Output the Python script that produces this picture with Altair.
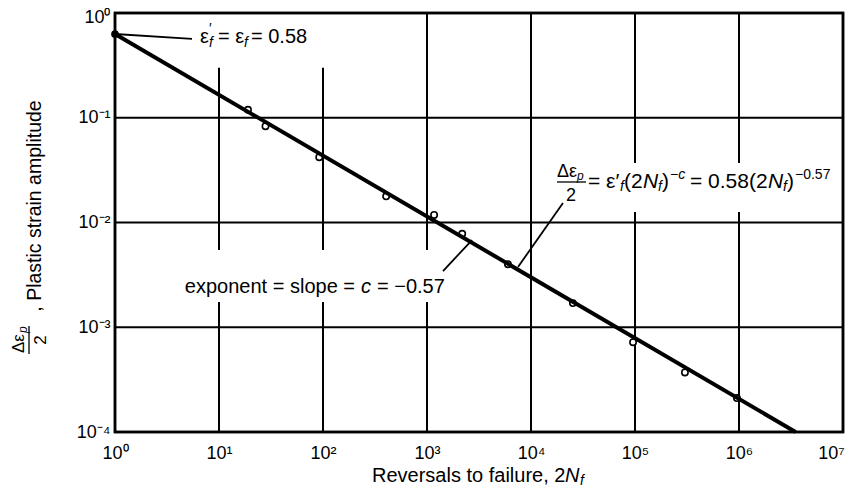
import altair as alt
import pandas as pd

# ---- data ----
pt_x = [19, 28, 92, 405, 1170, 2180, 6000, 25300, 95800, 302000, 955000]
pt_y = [0.119, 0.083, 0.042, 0.0178, 0.0118, 0.0078, 0.0040, 0.0017, 0.00072, 0.00037, 0.000211]

fit_x = [1, 3.5e6]
fit_y = [0.63, 1e-4]

start_x = [1]
start_y = [0.63]

x_ticks = [1, 10, 100, 1000, 1e4, 1e5, 1e6, 1e7]
x_tick_labels = ["10⁰", "10¹", "10²", "10³", "10⁴", "10⁵", "10⁶", "10⁷"]
y_ticks = [1, 0.1, 0.01, 0.001, 0.0001]
y_tick_labels = ["10⁰", "10⁻¹", "10⁻²", "10⁻³", "10⁻⁴"]

hgrid_y = [0.1, 0.01, 0.001]

vg_x = [10, 10, 100, 100, 1000, 1000, 1e4, 1e5, 1e5, 1e6, 1e6]
vg_top = [0.30, 0.00174, 0.30, 0.00174, 1, 0.00174, 1, 1, 0.0126, 1, 0.0126]
vg_bot = [0.00546, 1e-4, 0.00546, 1e-4, 0.00546, 1e-4, 1e-4, 0.037, 1e-4, 0.037, 1e-4]

lead_grp = ["a", "a", "b", "b", "c", "c"]
lead_x = [1, 5.5, 20300, 7500, 1425, 2710]
lead_y = [0.63, 0.565, 0.01535, 0.00376, 0.00344, 0.0068]

FONT = "Liberation Sans"
W, H = 728, 419
OX, OY = 115, 13

xs = alt.Scale(type="log", domain=[1, 1e7], nice=False)
ys = alt.Scale(type="log", domain=[1e-4, 1], nice=False)

def arr(labels):
    return "[" + ",".join("'" + l + "'" for l in labels) + "]"

x_axis = alt.Axis(values=x_ticks, labelExpr=arr(x_tick_labels) + "[round(log(datum.value)/LN10)]",
                  grid=False, ticks=False, domain=False, title=None, labelFontSize=18,
                  labelFont=FONT, labelColor="black", labelPadding=12, labelFlush=False,
                  labelOffset={"condition": {"test": "datum.value >= 1e7", "value": -12}, "value": 0})
y_axis = alt.Axis(values=y_ticks, labelExpr=arr(y_tick_labels) + "[round(-log(datum.value)/LN10)]",
                  grid=False, ticks=False, domain=False, title=None, labelFontSize=18,
                  labelFont=FONT, labelColor="black", labelPadding=5, labelFlush=False,
                  labelOffset={"condition": {"test": "datum.value >= 1", "value": 4}, "value": 0})

pts = pd.DataFrame({"x": pt_x, "y": pt_y})
fit = pd.DataFrame({"x": fit_x, "y": fit_y})
start = pd.DataFrame({"x": start_x, "y": start_y})
hg = pd.DataFrame({"y": hgrid_y})
vg = pd.DataFrame({"x": vg_x, "top": vg_top, "bot": vg_bot})
lead = pd.DataFrame({"g": lead_grp, "x": lead_x, "y": lead_y})
dummy = pd.DataFrame({"a": [0]})

hgrid = alt.Chart(hg).mark_rule(color="black", strokeWidth=2).encode(
    y=alt.Y("y:Q", scale=ys, axis=y_axis), x=alt.value(0), x2=alt.value(W))
vgrid = alt.Chart(vg).mark_rule(color="black", strokeWidth=2).encode(
    x=alt.X("x:Q", scale=xs, axis=x_axis), y=alt.Y("top:Q", scale=ys), y2="bot:Q")
border = alt.Chart(dummy).mark_rect(filled=False, stroke="black", strokeWidth=2.5, fillOpacity=0).encode(
    x=alt.value(0), x2=alt.value(W), y=alt.value(0), y2=alt.value(H))
points = alt.Chart(pts).mark_point(shape="circle", size=40, filled=False, color="black",
                                   strokeWidth=1.6, fill="white", fillOpacity=1).encode(
    x=alt.X("x:Q", scale=xs), y=alt.Y("y:Q", scale=ys))
line = alt.Chart(fit).mark_line(color="black", strokeWidth=4).encode(
    x=alt.X("x:Q", scale=xs), y=alt.Y("y:Q", scale=ys))
dot = alt.Chart(start).mark_point(shape="circle", size=60, filled=True, color="black", opacity=1).encode(
    x=alt.X("x:Q", scale=xs), y=alt.Y("y:Q", scale=ys))
leaders = alt.Chart(lead).mark_line(color="black", strokeWidth=1.8).encode(
    x=alt.X("x:Q", scale=xs), y=alt.Y("y:Q", scale=ys), detail="g:N")

def txt(s, px, py, size=20, style="normal", align="left", angle=0):
    return alt.Chart(dummy).mark_text(text=s, fontSize=size, fontStyle=style, align=align,
                                      baseline="middle", font=FONT, color="black", angle=angle).encode(
        x=alt.value(px - OX), y=alt.value(py - OY))

def seg(px1, py1, px2, py2, w=1.5):
    return alt.Chart(dummy).mark_rule(color="black", strokeWidth=w).encode(
        x=alt.value(px1 - OX), x2=alt.value(px2 - OX), y=alt.value(py1 - OY), y2=alt.value(py2 - OY))

E = 182  # equation main row
texts = [
    # annotation 1
    txt("ε", 200, 37), txt("′", 209, 29, 14), txt("f", 209, 43, 14, "italic"),
    txt("= ε", 218, 37), txt("f", 244, 43, 14, "italic"), txt("= 0.58", 251, 37),
    # exponent annotation
    txt("exponent = slope =", 355, 287, align="right"), txt("c", 361, 287, style="italic"),
    txt("= −0.57", 377, 287),
    # equation
    txt("Δε", 557, 172, 18), txt("p", 577, 176, 12, "italic"), seg(557, 182, 586, 182, 1.3),
    txt("2", 571, 196, 18, align="center"),
    txt("= ε′", 588, E, 21), txt("f", 620, E + 5, 14, "italic"), txt("(2", 624, E, 21),
    txt("N", 643, E, 21, "italic"), txt("f", 658, E + 5, 14, "italic"), txt(")", 662, E, 21),
    txt("−c", 670, E - 7, 14, "italic"),
    txt("= 0.58(2", 690, E, 21), txt("N", 768, E, 21, "italic"), txt("f", 783, E + 5, 14, "italic"),
    txt(")", 787, E, 21), txt("−0.57", 795, E - 7, 14),
    # x title
    txt("Reversals to failure, 2", 372, 476), txt("N", 565, 476, style="italic"),
    txt("f", 580, 481, 14, "italic"),
    # y title (rotated)
    txt(", Plastic strain amplitude", 35, 206, 19.5, angle=270, align="center"),
    txt("Δε", 19, 353, 17, angle=270, align="left"), txt("p", 23, 333, 12, "italic", angle=270),
    seg(29, 326, 29, 354, 1.3),
    txt("2", 41, 340, 17, angle=270, align="center"),
]

chart = alt.layer(hgrid, vgrid, border, points, line, dot, leaders, *texts).properties(
    width=W, height=H,
    background="white",
    autosize=alt.AutoSizeParams(type="none"),
    padding={"left": OX - 8, "top": OY - 8, "right": 2, "bottom": 55},
).configure_view(stroke="black", strokeWidth=2.5)

chart.save("out.html", embed_options={"renderer": "svg", "actions": False})
